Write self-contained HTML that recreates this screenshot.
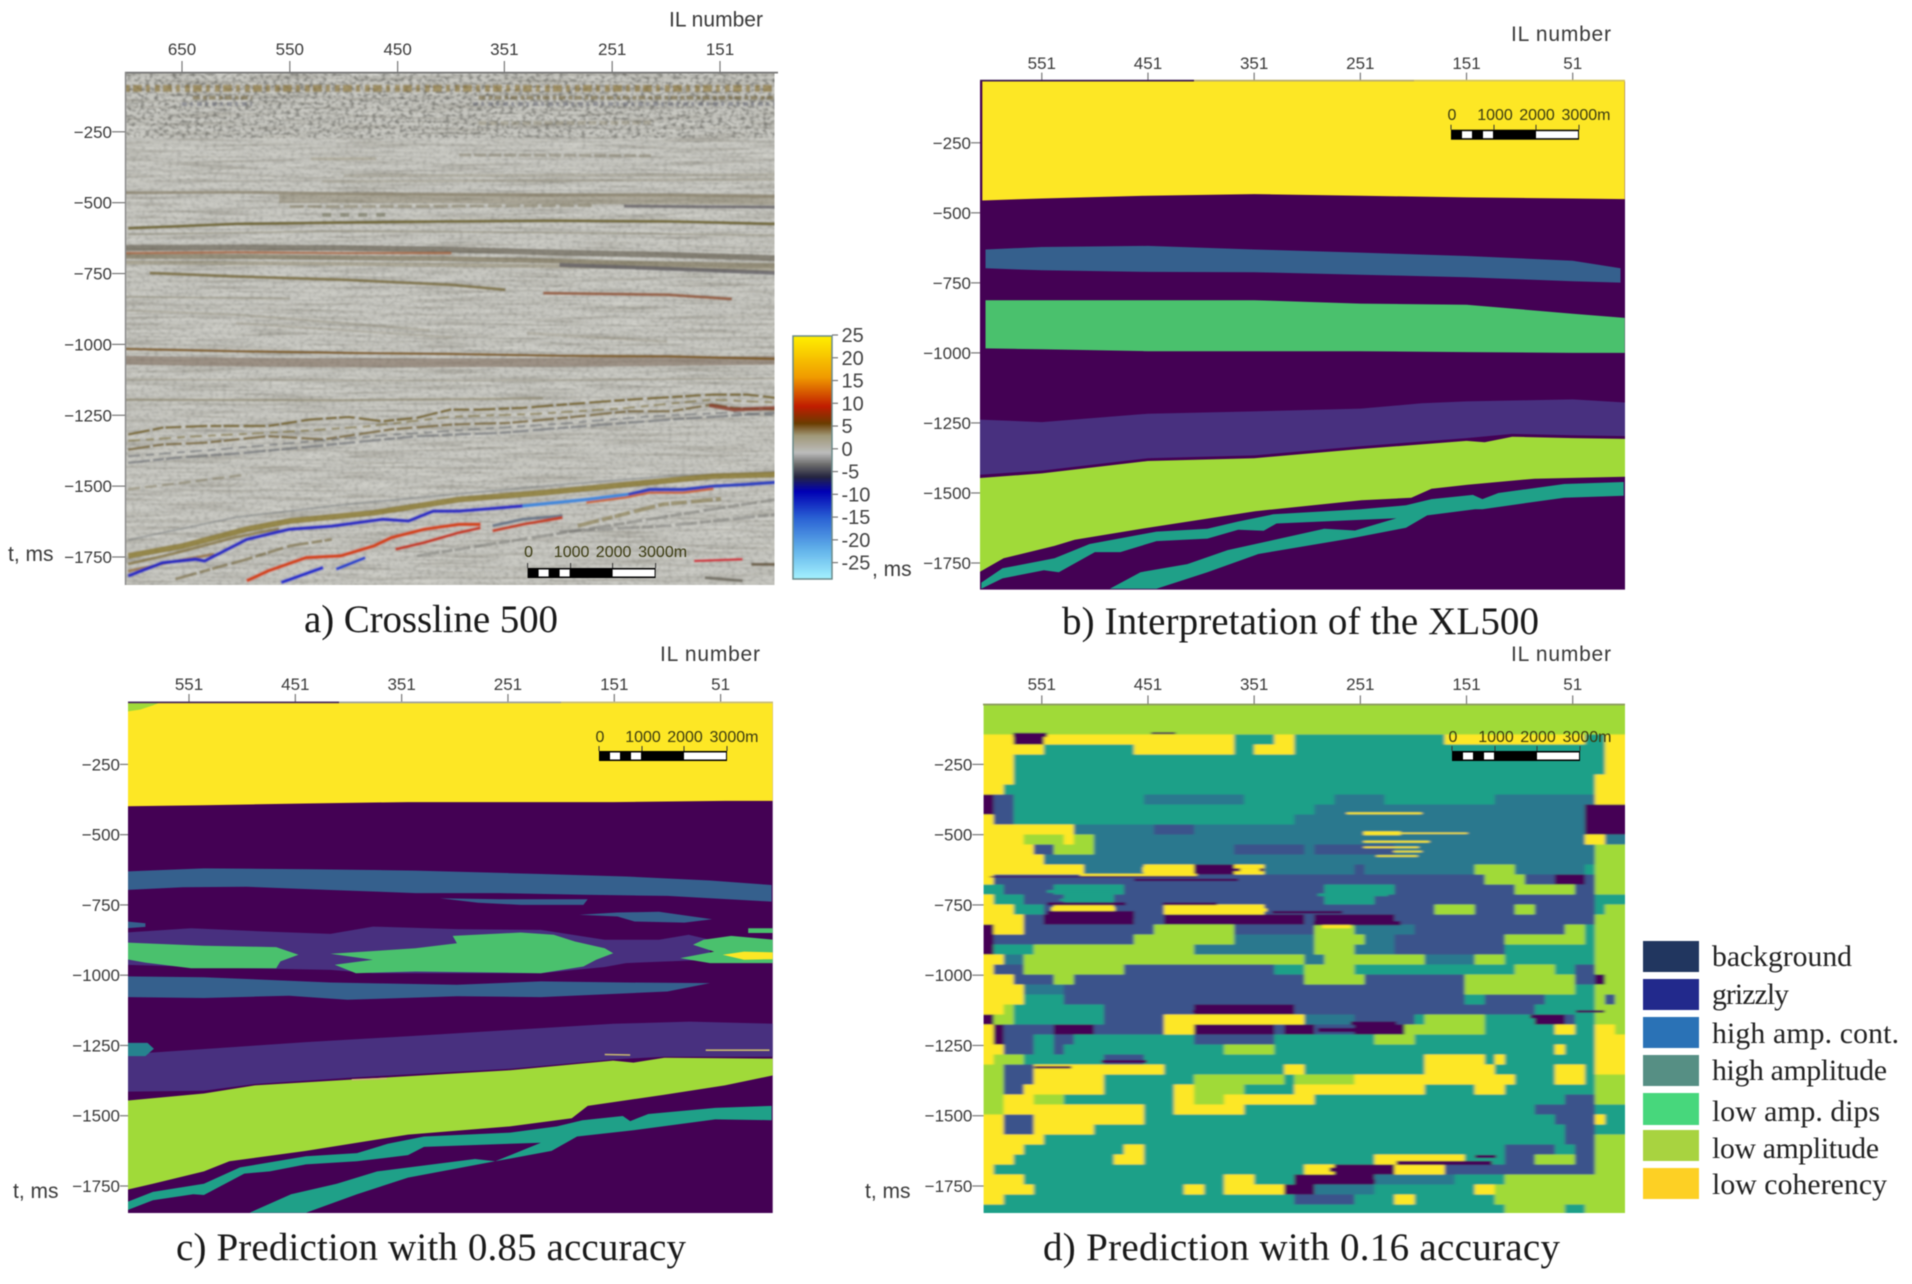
<!DOCTYPE html>
<html lang="en">
<head>
<meta charset="utf-8">
<title>Seismic facies prediction panels</title>
<style>
html,body{margin:0;padding:0;background:#fff;width:1912px;height:1284px;overflow:hidden}
svg{display:block;filter:blur(.45px)}
.tick{font-family:"Liberation Sans",sans-serif;font-size:17px;fill:#3a3a3a}
.axis-title{font-family:"Liberation Sans",sans-serif;font-size:21px;fill:#3a3a3a}
.scale{font-family:"Liberation Sans",sans-serif;font-size:16px;fill:#3a3a10}
.cb{font-family:"Liberation Sans",sans-serif;font-size:20px;fill:#444}
.caption{font-family:"Liberation Serif",serif;font-size:39px;fill:#1a1a1a}
.legend-text{font-family:"Liberation Serif",serif;font-size:29.7px;fill:#222}
</style>
</head>
<body>
<svg id="chart" xmlns="http://www.w3.org/2000/svg" width="1912" height="1284" viewBox="0 0 1912 1284">
<defs>
<filter id="streakNoise" x="0" y="0" width="100%" height="100%" color-interpolation-filters="sRGB">
<feTurbulence type="fractalNoise" baseFrequency="0.012 0.3" numOctaves="3" seed="7"/>
<feColorMatrix type="matrix" values="0 0 0 0 .36  0 0 0 0 .34  0 0 0 0 .28  2.6 0 0 0 -1.15"/>
</filter>
<filter id="speckNoise" x="0" y="0" width="100%" height="100%" color-interpolation-filters="sRGB">
<feTurbulence type="fractalNoise" baseFrequency="0.22 0.34" numOctaves="2" seed="3"/>
<feColorMatrix type="matrix" values="0 0 0 0 .3  0 0 0 0 .3  0 0 0 0 .28  2.4 0 0 0 -1.05"/>
</filter>
<filter id="lightNoise" x="0" y="0" width="100%" height="100%" color-interpolation-filters="sRGB">
<feTurbulence type="fractalNoise" baseFrequency="0.02 0.42" numOctaves="2" seed="19"/>
<feColorMatrix type="matrix" values="0 0 0 0 .95  0 0 0 0 .95  0 0 0 0 .92  2.4 0 0 0 -1.1"/>
</filter>
<filter id="softA" x="-2%" y="-2%" width="104%" height="104%"><feGaussianBlur stdDeviation="0.9 0.7"/></filter>
<filter id="softD" x="-2%" y="-2%" width="104%" height="104%"><feGaussianBlur stdDeviation="1.5 0.5"/></filter>
<linearGradient id="cbGradient" x1="0" y1="0" x2="0" y2="1">
<stop offset="0" stop-color="#fff000"/>
<stop offset=".17" stop-color="#f09a00"/>
<stop offset=".29" stop-color="#c01c00"/>
<stop offset=".36" stop-color="#6a3c00"/>
<stop offset=".41" stop-color="#a09878"/>
<stop offset=".48" stop-color="#bcbcbc"/>
<stop offset=".53" stop-color="#6a6a6a"/>
<stop offset=".58" stop-color="#252540"/>
<stop offset=".64" stop-color="#0000b4"/>
<stop offset=".75" stop-color="#2a62d4"/>
<stop offset=".88" stop-color="#62b2ea"/>
<stop offset="1" stop-color="#a4f2ff"/>
</linearGradient>
<clipPath id="clipA"><rect x="126" y="73" width="648.5" height="512"/></clipPath>
<clipPath id="clipB"><rect x="980" y="81" width="645" height="508.6"/></clipPath>
<clipPath id="clipC"><rect x="128" y="702.5" width="644.7" height="510.5"/></clipPath>
<clipPath id="clipD"><rect x="983.6" y="704.5" width="641.4" height="508.5"/></clipPath>
</defs>

<g id="panelA"></g>
<g id="panelB"></g>
<g id="panelC"></g>
<g id="panelD"></g>
<g id="colorbar"></g>

<text class="axis-title" x="669" y="26.5" textLength="94">IL number</text>
<text class="axis-title" x="8" y="561">t, ms</text>
<text class="axis-title" x="1511" y="41" textLength="100">IL number</text>
<text class="axis-title" x="872" y="576">, ms</text>
<text class="axis-title" x="660" y="661" textLength="100">IL number</text>
<text class="axis-title" x="13" y="1198">t, ms</text>
<text class="axis-title" x="1511" y="661" textLength="100">IL number</text>
<text class="axis-title" x="865" y="1198">t, ms</text>

<text class="caption" x="304" y="632" textLength="254">a) Crossline 500</text>
<text class="caption" x="1062" y="634" textLength="477">b) Interpretation of the XL500</text>
<text class="caption" x="176" y="1260" textLength="510">c) Prediction with 0.85 accuracy</text>
<text class="caption" x="1043" y="1260" textLength="517">d) Prediction with 0.16 accuracy</text>

<g>
<g><rect x="1643" y="941" width="56" height="31" fill="#21365f"/><text class="legend-text" x="1712" y="966" textLength="140">background</text></g>
<g><rect x="1643" y="979" width="56" height="31" fill="#22298c"/><text class="legend-text" x="1712" y="1004" textLength="77">grizzly</text></g>
<g><rect x="1643" y="1017" width="56" height="31" fill="#2a72b6"/><text class="legend-text" x="1712" y="1043" textLength="187">high amp. cont.</text></g>
<g><rect x="1643" y="1055" width="56" height="31" fill="#568f84"/><text class="legend-text" x="1712" y="1080" textLength="175">high amplitude</text></g>
<g><rect x="1643" y="1093" width="56" height="32" fill="#47d77c"/><text class="legend-text" x="1712" y="1121" textLength="168">low amp. dips</text></g>
<g><rect x="1643" y="1130" width="56" height="31" fill="#a8d340"/><text class="legend-text" x="1712" y="1158" textLength="167">low amplitude</text></g>
<g><rect x="1643" y="1168" width="56" height="31" fill="#fdd024"/><text class="legend-text" x="1712" y="1194" textLength="175">low coherency</text></g>
</g>
</svg>

<script>
/* ---------- axis tick data ---------- */
const panelAXTicks = [650, 550, 450, 351, 251, 151];
const otherXTicks = [551, 451, 351, 251, 151, 51];
const timeTicks = [250, 500, 750, 1000, 1250, 1500, 1750];
const colorbarTicks = [25, 20, 15, 10, 5, 0, -5, -10, -15, -20, -25];
const scaleLabels = ['0', '1000', '2000', '3000m'];

/* ---------- panel b boundaries: [inline number, time ms] ---------- */
const bYellow = [[607,20],[2,20],[2,451],[51,449],[151,445],[251,439],[351,433],[451,439],[551,449],[607,456]];
const bBlueTop = [[604,631],[551,622],[451,618],[351,631],[251,642],[151,654],[51,671],[6,698]];
const bBlueBottom = [[6,749],[51,744],[151,730],[251,721],[351,712],[451,711],[551,705],[604,698]];
const bGreenTop = [[604,812],[551,812],[451,812],[351,812],[251,824],[151,828],[51,860],[2,875]];
const bGreenBottom = [[2,1000],[51,1000],[151,997],[251,994],[351,994],[451,994],[551,987],[604,984]];
const bGrizzlyTop = [[610,1238],[551,1247],[451,1217],[351,1209],[251,1199],[193,1180],[151,1173],[51,1166],[1,1177]];
const bGrizzlyBottom = [[1,1297],[51,1294],[108,1289],[151,1304],[251,1333],[351,1366],[451,1376],[551,1420],[610,1435]];
const bLightTop = [[610,1447],[551,1430],[451,1386],[351,1376],[251,1343],[151,1314],[134,1319],[108,1299],[51,1304],[1,1307]];
const bLightBottom = [[1,1442],[87,1449],[150,1471],[184,1485],[203,1517],[250,1526],[350,1565],[451,1624],[520,1667],[539,1689],[587,1733],[610,1783]];
const bTeal = [[608,1842],[608,1820],[588,1769],[539,1733],[506,1682],[443,1638],[395,1628],[366,1602],[333,1576],[251,1558],[208,1544],[184,1522],[145,1507],[136,1522],[121,1500],[59,1468],[3,1461],[3,1510],[59,1517],[136,1558],[143,1558],[188,1580],[208,1624],[261,1663],[347,1718],[395,1783],[443,1842],[487,1842],[458,1783],[414,1754],[376,1704],[285,1628],[256,1634],[217,1590],[330,1609],[342,1635],[366,1631],[395,1663],[443,1672],[477,1711],[501,1711],[535,1783],[549,1776],[588,1805]];

/* ---------- panel c boundaries: [inline number, time ms] ---------- */
const cYellow = [[610,20],[0,20],[0,380],[47,380],[152,384],[249,384],[345,384],[441,389],[537,395],[610,399]];
const cSmudge = [[610,25],[575,25],[585,40],[597,55],[610,62]];
const cBlue1Top = [[610,631],[537,620],[438,623],[338,628],[220,640],[140,649],[61,663],[3,679]];
const cBlue1Bottom = [[3,738],[101,718],[180,714],[259,708],[338,708],[418,697],[497,685],[557,687],[610,697]];
const cStreak = [[315,726],[259,730],[176,730],[180,750],[239,750],[279,742]];
const cBlob = [[184,785],[148,777],[109,774],[59,801],[85,813],[132,809],[148,791]];
const cLeftBit = [[610,809],[592,815],[592,828],[610,833]];
const cGrizzly1 = [[610,848],[549,833],[477,845],[418,853],[378,827],[299,836],[220,839],[160,874],[109,874],[81,856],[61,874],[61,945],[140,957],[160,971],[220,993],[378,993],[418,981],[497,975],[610,963]];
const cGreen1 = [[610,884],[537,895],[469,900],[448,927],[465,951],[469,975],[549,975],[592,955],[610,943]];
const cGreen2 = [[410,922],[338,904],[299,886],[303,860],[239,848],[208,856],[188,880],[160,904],[152,922],[168,945],[180,969],[220,993],[338,987],[394,993],[414,963],[378,945],[418,924]];
const cGreen3 = [[67,874],[41,860],[0,874],[0,957],[61,957],[89,939],[57,916],[77,892]];
const cGreen4 = [[25,833],[0,833],[0,850],[25,850]];
const cYellowSpot = [[49,927],[29,916],[0,919],[0,943],[29,945]];
const cBlue2Top = [[610,1004],[537,1007],[418,1026],[299,1034],[220,1022],[140,1026],[61,1028]];
const cBlue2Bottom = [[101,1058],[220,1078],[299,1075],[402,1087],[457,1073],[537,1081],[610,1078]];
const cTealBit = [[610,1241],[590,1241],[584,1262],[592,1288],[610,1288]];
const cGrizzly2Top = [[610,1282],[585,1275],[441,1238],[345,1217],[249,1195],[152,1173],[80,1165],[0,1173]];
const cGrizzly2Bottom = [[0,1290],[104,1290],[152,1300],[249,1333],[393,1363],[489,1387],[537,1411],[610,1414]];
const cLightTop = [[610,1446],[537,1421],[489,1392],[393,1370],[249,1338],[152,1304],[133,1311],[104,1294],[0,1297]];
const cLightBottom = [[0,1355],[47,1392],[104,1425],[176,1465],[191,1509],[249,1538],[345,1567],[441,1625],[513,1662],[537,1698],[585,1742],[610,1764]];
const cTeal = [[610,1837],[610,1808],[585,1771],[537,1742],[503,1684],[441,1644],[393,1633],[364,1600],[330,1574],[249,1560],[205,1538],[181,1516],[143,1501],[136,1519],[119,1494],[56,1472],[3,1465],[3,1516],[56,1513],[133,1552],[186,1574],[210,1625],[263,1662],[345,1720],[393,1779],[441,1845],[494,1845],[455,1779],[412,1742],[374,1698],[282,1654],[263,1662],[220,1596],[330,1611],[345,1640],[393,1662],[441,1673],[475,1698],[499,1706],[537,1782],[547,1779],[585,1801],[610,1837]];
const cTanStreak1 = [[160,1282],[136,1284]];
const cTanStreak2 = [[65,1267],[5,1267]];
const cTanStreak3 = [[398,1372],[365,1367]];

/* ---------- panel d heatmap: each row lists class + end column ---------- */
const dRows = [
"L64","L64","L64",
"Y3 P6 Y25 T29 Y31 T46 Y60 T62 Y64",
"Y6 T15 Y25 T27 Y31 T62 Y64",
"Y3 T62 Y64","Y3 T62 Y64","Y3 T61 Y64","Y2 T61 Y64",
"P1 I3 T16 B26 T35 B40 T51 B61 Y64",
"P1 I3 T33 B60 P64",
"Y1 I3 T31 B60 P64",
"Y9 B17 I21 B60 P64",
"Y4 L8 Y9 L11 B60 Y62 B64",
"Y5 I7 L11 B25 I32 B33 I41 B61 L64",
"Y6 B61 L64",
"Y10 B16 Y21 P25 Y28 B37 I38 B49 L53 B60 T61 L64",
"Y1 I50 L54 I57 P60 I61 L64",
"T2 I7 T14 I34 T41 I53 L59 I61 L64",
"Y1 T4 I8 T13 I34 T39 I61 T64",
"Y3 T6 I7 Y13 I18 Y28 I45 L49 I53 L55 I61 T62 L64",
"Y4 I6 P15 I18 P32 I33 P41 I61 L64",
"P1 Y4 I17 L25 I33 L37 B43 I58 L60 T61 L64",
"P1 I15 L25 B33 L38 B41 I52 L60 T61 L64",
"P1 T5 L21 B33 L37 B41 I52 T61 L64",
"Y2 B4 L32 B34 L44 B49 L52 T61 L64",
"Y1 I4 L14 I29 T32 L37 T53 L57 T59 I61 L64",
"Y3 I7 L9 I32 L38 I48 L59 I61 P62 L64",
"Y4 B8 I48 L59 T61 L64",
"Y4 T8 I48 T50 I56 T61 L62 I63 L64",
"Y2 L3 T12 I21 P31 I55 T61 L64",
"P1 L3 T12 I18 Y32 B37 I43 T44 L50 T55 P58 I59 T61 L64",
"Y1 P2 I7 P11 I18 Y21 P29 I30 P33 I37 P42 L50 T57 Y59 T61 Y63 L64",
"Y1 P2 I5 T7 I9 T21 I29 T39 L43 T61 Y64",
"Y2 I5 T7 I8 T24 L29 T57 Y58 T61 Y64",
"Y1 L4 T12 I16 T44 Y50 T51 Y52 T61 Y64",
"L2 I5 Y18 T30 Y32 T44 Y51 T57 Y60 T61 Y64",
"L2 I5 Y12 T21 L30 T31 L37 Y53 T57 Y60 T61 L64",
"L2 I4 Y12 T19 Y21 L26 T31 Y44 T49 Y52 T61 L64",
"L2 Y5 L8 T19 Y21 L24 Y33 T58 I61 L64",
"L2 Y16 T19 Y26 T55 I61 T64",
"Y2 I5 Y16 T57 I61 Y62 T64",
"Y2 I5 Y11 T58 I61 T64",
"Y6 T58 I61 L64",
"Y4 T14 Y16 T52 I57 T59 I61 L64",
"Y3 T13 Y16 T39 Y48 T52 I55 L59 I61 L64",
"Y1 T32 Y35 P41 Y46 I61 L64",
"Y4 T24 Y27 T31 P39 B47 T52 L64",
"Y5 T20 Y22 T24 Y30 P33 B39 T49 Y51 L64",
"Y2 T31 I37 T41 Y43 T51 L64",
"T52 L58 T60 L64"
];
/* thin panel d streaks, parallel arrays */
const dStreakClass = "YYYYYYYYPYYPPTTTPPYYPPPPPYPPPPPPPPPPPPPP";
const dStreakMs = [424,495,495,525,545,560,576,625,625,625,643,661,650,702,714,732,746,746,765,768,776,785,801,797,815,827,145,139,1129,1183,1195,1171,1147,1129,1307,1328,1668,1645,1692,1734,222,222];
const dStreakFrom = [264,248,213,248,248,220,236,456,405,364,515,464,600,546,291,534,546,437,542,421,334,546,546,433,295,287,578,448,409,539,291,260,91,48,495,558,217,143,280,311,546,546];
const dStreakTo = [193,213,150,186,196,193,197,409,342,346,405,366,405,480,225,486,472,386,482,339,268,464,476,307,213,260,546,425,319,503,213,217,60,21,452,523,127,123,225,237,314,314];
const dStreakHeight = [7,14,5,7,6,6,6,20,10,12,8,8,4,10,10,8,10,9,15,12,9,26,18,14,14,12,14,6,8,12,14,12,12,8,9,8,14,10,14,14,0,0];

/* ---------- panel a horizons: [inline number, time ms] ---------- */
const hzTop1 = [[703,97],[99,97]];
const hzTop2a = [[640,130],[585,130]];
const hzTop2b = [[375,130],[99,130]];
const hzTop3a = [[650,152],[585,152]];
const hzTop3b = [[380,152],[99,152]];
const hzFaint220 = [[375,220],[215,218]];
const hzFaint332 = [[393,332],[215,334]];
const hzFaint345 = [[530,345],[470,345]];
const hzFaint405 = [[500,405],[99,402]];
const hzFaint425 = [[520,425],[99,418]];
const hzBand470 = [[703,465],[600,463],[500,468],[400,470],[300,472],[200,472],[99,476]];
const hzBand485 = [[560,486],[500,486],[400,486],[300,490],[200,490],[99,492]];
const hzRight514 = [[240,512],[170,514],[99,516]];
const hzLeft514 = [[550,514],[400,512],[270,510]];
const hzBlobs543 = [[520,543],[455,543]];
const hzStrong570 = [[700,590],[600,575],[500,570],[400,566],[300,564],[200,566],[99,575]];
const hzFaint607 = [[700,612],[500,600],[300,606],[99,615]];
const hzDark660 = [[703,660],[600,658],[500,660],[400,666],[300,676],[200,684],[99,696]];
const hzOrange678 = [[703,678],[600,675],[500,678],[400,678]];
const hzDark692 = [[703,690],[600,690],[500,694],[400,698],[300,706],[200,716],[99,722]];
const hzTan711 = [[703,711],[500,716],[300,724],[99,737]];
const hzDark735 = [[300,720],[200,733],[99,748]];
const hzBrown760 = [[680,748],[600,760],[500,772],[400,790],[350,807]];
const hzRed825 = [[315,819],[200,825],[140,840]];
const hzFaint830 = [[703,832],[550,838]];
const hzFaint880 = [[703,880],[600,895],[500,925],[420,950]];
const hzFaint930 = [[600,925],[480,955],[400,975]];
const hzFaint990 = [[330,960],[200,990]];
const hzFlat1030 = [[703,1016],[600,1024],[500,1030],[400,1034],[300,1040],[200,1042],[99,1051]];
const hzWide1062 = [[703,1056],[600,1062],[500,1065],[400,1065],[300,1063],[200,1060],[99,1056]];
const hzFaint1124 = [[703,1124],[400,1128],[99,1120]];
const hzFaint1195 = [[703,1195],[500,1197],[315,1190]];
const hzWavy1 = [[700,1318],[668,1294],[629,1288],[570,1288],[531,1265],[495,1256],[464,1271],[432,1259],[401,1230],[374,1230],[334,1224],[295,1212],[236,1195],[158,1177],[126,1177],[98,1189]];
const hzWavy2 = [[700,1371],[668,1353],[629,1347],[570,1324],[519,1335],[456,1300],[401,1283],[346,1277],[295,1259],[236,1236],[197,1236],[158,1212],[138,1224],[98,1230]];
const hzWavy3 = [[700,1418],[656,1400],[590,1382],[511,1353],[432,1324],[354,1312],[275,1288],[197,1265],[98,1241]];
const hzWavy4 = [[700,1340],[640,1325],[560,1310],[480,1290],[400,1255],[320,1245],[240,1225],[160,1195],[98,1205]];
const hzWavy5 = [[700,1395],[620,1372],[540,1345],[460,1320],[380,1300],[300,1280],[220,1255],[140,1240],[98,1250]];
const hzRedCluster = [[161,1215],[138,1230],[98,1224]];
const hzLowLeft = [[700,1511],[649,1488],[590,1459]];
const hzGrayAbove = [[700,1690],[600,1610],[500,1565],[400,1530],[300,1495],[200,1465],[99,1450]];
const hzBrownThick = [[700,1746],[649,1711],[590,1652],[550,1623],[472,1594],[393,1547],[315,1523],[236,1494],[157,1465],[98,1459]];
const hzBlueMain = [[700,1817],[668,1770],[637,1758],[629,1764],[590,1688],[550,1652],[511,1641],[464,1617],[440,1623],[417,1588],[393,1588],[334,1570]];
const hzBlueLight = [[334,1570],[275,1547],[236,1529]];
const hzBlueEnd = [[236,1529],[216,1512],[185,1512],[157,1500],[126,1494],[98,1486]];
const hzRed1 = [[590,1834],[570,1799],[535,1752],[503,1746],[472,1711],[456,1682],[425,1652],[393,1635],[373,1635]];
const hzBlueLow1 = [[558,1840],[519,1787]];
const hzBlueLow2 = [[507,1793],[480,1752]];
const hzRed3 = [[452,1723],[425,1699],[393,1664],[373,1647]];
const hzRed4 = [[362,1658],[334,1635],[297,1611]];
const hzGray4 = [[362,1640],[334,1617],[297,1605]];
const hzOrangeUnder = [[275,1558],[240,1541],[216,1523],[185,1523],[157,1509]];
const hzRedBottom = [[175,1764],[130,1758]];
const hzDarkBottom = [[122,1776],[98,1776]];
const hzBottomRight = [[165,1823],[130,1834]];
const hzTanLeft = [[700,1775],[660,1740],[600,1680],[560,1650]];
const hzBrownBelow = [[656,1828],[629,1799],[590,1758],[550,1711],[511,1688]];
const hzGrayLow = [[432,1746],[354,1699],[275,1652],[197,1605],[99,1547]];
const hzBrownRight = [[283,1640],[204,1564],[150,1545]];
const hzLeftBottom = [[700,1800],[650,1760],[620,1740]];
const hzLowRight = [[300,1660],[200,1640],[99,1600]];

/* ---------- scales ---------- */
function linear(d0, d1, r0, r1) {
  return function (v) { return r0 + (v - d0) * (r1 - r0) / (d1 - d0); };
}
const axA = { x: linear(650, 151, 182, 720), y: linear(250, 1750, 131.8, 557) };
const axB = { x: linear(551, 51, 1041.8, 1572.7), y: linear(250, 1750, 142.8, 563) };
const axC = { x: linear(551, 51, 189, 720.6), y: linear(250, 1750, 764.4, 1186) };
const axD = { x: linear(551, 51, 1041.8, 1572.7), y: linear(250, 1750, 764.4, 1186) };

const NS = 'http://www.w3.org/2000/svg';
function mk(tag, parent, name) {
  const el = document.createElementNS(NS, tag);
  
  
  parent.appendChild(el);
  return el;
}
function set(el, props) { for (const k in props) el.setAttribute(k, props[k]); return el; }

function polygon(g, ax, pts, fill, name) {
  const el = mk('polygon', g, name);
  set(el, { points: pts.map(function (p) { return ax.x(p[0]).toFixed(1) + ',' + ax.y(p[1]).toFixed(1); }).join(' '), fill: fill });
}
function band(top, bottom) { return top.concat(bottom); }
function line(g, ax, pts, color, width, opacity, name, dash) {
  const el = mk('polyline', g, name);
  set(el, { points: pts.map(function (p) { return ax.x(p[0]).toFixed(1) + ',' + ax.y(p[1]).toFixed(1); }).join(' '), fill: 'none', stroke: color, 'stroke-width': width, 'stroke-opacity': opacity, 'stroke-linejoin': 'round' });
  if (dash) el.setAttribute('stroke-dasharray', dash);
}

function axes(g, ax, xTicks, o) {
  xTicks.forEach(function (t) {
    const x = ax.x(t);
    const tk = mk('line', g, 'x-tick-' + t);
    set(tk, { x1: x, x2: x, y1: o.tickTop, y2: o.top, stroke: '#777', 'stroke-width': 1.2 });
    const lb = mk('text', g, 'x-tick-label-' + t);
    set(lb, { class: 'tick', x: x, y: o.labelY, 'text-anchor': 'middle' });
    lb.textContent = String(t);
  });
  timeTicks.forEach(function (t) {
    const y = ax.y(t);
    const tk = mk('line', g, 'y-tick-' + t);
    set(tk, { x1: o.tickLeft, x2: o.left, y1: y, y2: y, stroke: '#777', 'stroke-width': 1.2 });
    const lb = mk('text', g, 'y-tick-label-' + t);
    set(lb, { class: 'tick', x: o.tickLeft, y: y + 6, 'text-anchor': 'end' });
    lb.textContent = '\u2212' + t;
  });
  o.topSegments.forEach(function (s, i) {
    const l = mk('line', g, 'top-axis-segment-' + i);
    set(l, { x1: s[0], x2: s[1], y1: o.top, y2: o.top, stroke: s[2], 'stroke-width': 1.8 });
  });
}

function scaleBar(g, x0, y0, labelY) {
  const s = mk('g', g, 'scale-bar');
  const black = mk('rect', s, 'scale-bar-black');
  set(black, { x: x0, y: y0, width: 128, height: 10, fill: '#000' });
  [[11, 10], [32, 10], [85, 42]].forEach(function (b, i) {
    const r = mk('rect', s, 'scale-bar-white-' + i);
    set(r, { x: x0 + b[0], y: y0 + 1.5, width: b[1], height: 7, fill: '#fff' });
  });
  [0, 43, 85, 128].forEach(function (dx, i) {
    const t = mk('line', s, 'scale-bar-tick-' + i);
    set(t, { x1: x0 + dx, x2: x0 + dx, y1: y0 - 5, y2: y0, stroke: '#333', 'stroke-width': 1 });
  });
  [1, 44, 86, 135].forEach(function (dx, i) {
    const t = mk('text', s, 'scale-bar-label-' + i);
    set(t, { class: 'scale', x: x0 + dx, y: labelY, 'text-anchor': 'middle' });
    t.textContent = scaleLabels[i];
  });
}

const VIRIDIS = { yellow: '#fde725', purple: '#440154', blue: '#35608d', grizzly: '#48307f', green: '#4ac16d', light: '#a0da39', teal: '#1fa088' };

/* ---------- panel A ---------- */
(function () {
  const root = document.getElementById('panelA');
  const clip = mk('g', root, 'seismic-section');
  clip.setAttribute('clip-path', 'url(#clipA)');
  const g = mk('g', clip, 'seismic-image');
  g.setAttribute('filter', 'url(#softA)');
  const base = mk('rect', g, 'seismic-background');
  set(base, { x: 120, y: 68, width: 660, height: 522, fill: '#c6c6c0' });
  const n1 = mk('rect', g, 'seismic-streak-texture');
  set(n1, { x: 120, y: 68, width: 660, height: 522, filter: 'url(#streakNoise)', opacity: .3 });
  const n2 = mk('rect', g, 'seismic-light-texture');
  set(n2, { x: 120, y: 68, width: 660, height: 522, filter: 'url(#lightNoise)', opacity: .3 });
  const n3 = mk('rect', g, 'seismic-speckle-texture');
  set(n3, { x: 120, y: 68, width: 660, height: 522, filter: 'url(#speckNoise)', opacity: .22 });
  const n4 = mk('rect', g, 'seismic-top-speckle');
  set(n4, { x: 120, y: 68, width: 660, height: 70, filter: 'url(#speckNoise)', opacity: .55 });
  const a = axA;
  const broken = '22 3 11 2 16 4';
  line(g, a, hzTop1, '#8a7230', 7, .6, 'horizon-top-1', '5 3 9 4 4 5');
  line(g, a, hzTop2a, '#6e5c30', 4, .55, 'horizon-top-2a', '7 3 4 2');
  line(g, a, hzTop2b, '#6e5c30', 4, .55, 'horizon-top-2b', '7 3 4 2');
  line(g, a, hzTop3a, '#5d6070', 4, .5, 'horizon-top-3a', '5 3 3 4');
  line(g, a, hzTop3b, '#5d6070', 4, .5, 'horizon-top-3b', '5 3 3 4');
  line(g, a, hzFaint220, '#8c8468', 4, .35, 'horizon-220', '8 3');
  line(g, a, hzFaint332, '#7c7660', 3, .45, 'horizon-332', '12 3');
  line(g, a, hzFaint345, '#8c8468', 3, .35, 'horizon-345');
  line(g, a, hzFaint405, '#8a8470', 3, .35, 'horizon-405');
  line(g, a, hzFaint425, '#8a8470', 3, .35, 'horizon-425');
  line(g, a, hzBand470, '#7c7258', 3, .6, 'horizon-470');
  line(g, a, hzBand485, '#80765a', 9, .4, 'horizon-485');
  line(g, a, hzRight514, '#4e4a52', 3, .65, 'horizon-514-right');
  line(g, a, hzLeft514, '#80785c', 3, .5, 'horizon-514-left', '14 4');
  line(g, a, hzBlobs543, '#6a6a50', 4, .55, 'horizon-543', '9 9');
  line(g, a, hzStrong570, '#62561c', 3, .8, 'horizon-570');
  line(g, a, hzFaint607, '#8a8470', 2, .45, 'horizon-607');
  line(g, a, hzDark660, '#5e5648', 6, .6, 'horizon-660');
  line(g, a, hzOrange678, '#a4562a', 2.5, .7, 'horizon-678');
  line(g, a, hzDark692, '#6e6244', 5, .55, 'horizon-692');
  line(g, a, hzTan711, '#807656', 4, .4, 'horizon-711');
  line(g, a, hzDark735, '#55525a', 4, .7, 'horizon-735');
  line(g, a, hzBrown760, '#6a5a24', 3, .7, 'horizon-760');
  line(g, a, hzRed825, '#8a4422', 3, .75, 'horizon-825');
  line(g, a, hzFaint830, '#8a8470', 2, .45, 'horizon-830');
  line(g, a, hzFaint880, '#8a8470', 2.5, .35, 'horizon-880');
  line(g, a, hzFaint930, '#8a8470', 2.5, .3, 'horizon-930');
  line(g, a, hzFaint990, '#8a8470', 3, .3, 'horizon-990');
  line(g, a, hzWide1062, '#7a6656', 9, .55, 'horizon-1062');
  line(g, a, hzFlat1030, '#7a5518', 2.5, .9, 'horizon-1030');
  line(g, a, hzFaint1124, '#8a8470', 2, .35, 'horizon-1124');
  line(g, a, hzFaint1195, '#7e7658', 2.5, .5, 'horizon-1195');
  line(g, a, hzWavy1, '#6e5c1c', 2.5, .85, 'horizon-wavy-1', broken);
  line(g, a, hzWavy4, '#7a6a30', 2, .6, 'horizon-wavy-4', '12 6 8 5');
  line(g, a, hzWavy2, '#6a5420', 2.5, .7, 'horizon-wavy-2', broken);
  line(g, a, hzWavy5, '#60646a', 2, .55, 'horizon-wavy-5', '12 6 8 5');
  line(g, a, hzWavy3, '#62666c', 2.5, .6, 'horizon-wavy-3', broken);
  line(g, a, hzRedCluster, '#8a3a26', 4, .8, 'horizon-red-cluster');
  line(g, a, hzLowLeft, '#7e7658', 2.5, .5, 'horizon-low-left', '12 5');
  line(g, a, hzGrayAbove, '#74787a', 2, .45, 'horizon-gray-above');
  line(g, a, hzBrownThick, '#84701e', 6, .72, 'horizon-brown-thick');
  line(g, a, hzTanLeft, '#7a6628', 3, .65, 'horizon-tan-left');
  line(g, a, hzLeftBottom, '#8a5a20', 3, .65, 'horizon-left-bottom');
  line(g, a, hzBrownBelow, '#6a5a28', 3, .55, 'horizon-brown-below', broken);
  line(g, a, hzGrayLow, '#6a6a66', 3, .45, 'horizon-gray-low', broken);
  line(g, a, hzLowRight, '#6a6a66', 3, .4, 'horizon-low-right', broken);
  line(g, a, hzBrownRight, '#7a6a30', 4, .5, 'horizon-brown-right', broken);
  line(g, a, hzBlueMain, '#2222c4', 3.5, .95, 'horizon-blue-main');
  line(g, a, hzBlueLight, '#3a86dc', 3.5, .95, 'horizon-blue-light');
  line(g, a, hzBlueEnd, '#2438c0', 3.5, .95, 'horizon-blue-end');
  line(g, a, hzOrangeUnder, '#cc5a22', 2.5, .85, 'horizon-orange-under');
  line(g, a, hzRed1, '#d43c10', 3.5, .95, 'horizon-red-1');
  line(g, a, hzBlueLow1, '#1a22cc', 3.5, .95, 'horizon-blue-low-1');
  line(g, a, hzBlueLow2, '#1a38cc', 3, .95, 'horizon-blue-low-2');
  line(g, a, hzRed3, '#c43018', 3, .95, 'horizon-red-3');
  line(g, a, hzGray4, '#50607a', 3, .75, 'horizon-gray-4');
  line(g, a, hzRed4, '#c43818', 3, .95, 'horizon-red-4');
  line(g, a, hzRedBottom, '#d0202e', 2.5, .95, 'horizon-red-bottom');
  line(g, a, hzDarkBottom, '#5a4a30', 3, .8, 'horizon-dark-bottom');
  line(g, a, hzBottomRight, '#5a5548', 3, .7, 'horizon-bottom-right');
  axes(root, a, panelAXTicks, { top: 72.6, tickTop: 61, labelY: 55, left: 126, tickLeft: 112, topSegments: [[125, 778, '#777']] });
  const lft = mk('line', root, 'panel-a-left-axis');
  set(lft, { x1: 125.5, x2: 125.5, y1: 72, y2: 585, stroke: '#888', 'stroke-width': 1.4 });
  scaleBar(root, 527.6, 568, 557);
})();

/* ---------- panel B ---------- */
(function () {
  const root = document.getElementById('panelB');
  const g = mk('g', root, 'interpretation-map');
  g.setAttribute('clip-path', 'url(#clipB)');
  const base = mk('rect', g, 'background-class');
  set(base, { x: 980, y: 81, width: 645, height: 509, fill: VIRIDIS.purple });
  const a = axB;
  polygon(g, a, bYellow, VIRIDIS.yellow, 'region-yellow');
  polygon(g, a, band(bBlueTop, bBlueBottom), VIRIDIS.blue, 'region-high-amp');
  polygon(g, a, band(bGreenTop, bGreenBottom), VIRIDIS.green, 'region-low-amp-dips');
  polygon(g, a, band(bGrizzlyTop, bGrizzlyBottom), VIRIDIS.grizzly, 'region-grizzly');
  polygon(g, a, band(bLightTop, bLightBottom), VIRIDIS.light, 'region-low-amplitude');
  polygon(g, a, bTeal, VIRIDIS.teal, 'region-high-amplitude');
  axes(root, a, otherXTicks, { top: 80.6, tickTop: 72.6, labelY: 69, left: 980, tickLeft: 971, topSegments: [[980, 1194, '#3d1a50'], [1194, 1414, '#b9ab6c'], [1414, 1625, '#d6c55a']] });
  scaleBar(root, 1451, 129.7, 120);
})();

/* ---------- panel C ---------- */
(function () {
  const root = document.getElementById('panelC');
  const g = mk('g', root, 'prediction-map-085');
  g.setAttribute('clip-path', 'url(#clipC)');
  const base = mk('rect', g, 'background-class');
  set(base, { x: 128, y: 702, width: 645, height: 511, fill: VIRIDIS.purple });
  const a = axC;
  polygon(g, a, cYellow, VIRIDIS.yellow, 'region-yellow');
  polygon(g, a, cSmudge, VIRIDIS.light, 'region-top-smudge');
  polygon(g, a, band(cBlue1Top, cBlue1Bottom), VIRIDIS.blue, 'region-high-amp-upper');
  polygon(g, a, cStreak, VIRIDIS.blue, 'region-high-amp-streak');
  polygon(g, a, cBlob, VIRIDIS.blue, 'region-high-amp-blob');
  polygon(g, a, cLeftBit, VIRIDIS.blue, 'region-high-amp-left');
  polygon(g, a, cGrizzly1, VIRIDIS.grizzly, 'region-grizzly-mid');
  polygon(g, a, cGreen1, VIRIDIS.green, 'region-dips-left');
  polygon(g, a, cGreen2, VIRIDIS.green, 'region-dips-center');
  polygon(g, a, cGreen3, VIRIDIS.green, 'region-dips-right');
  polygon(g, a, cGreen4, VIRIDIS.green, 'region-dips-top-right');
  polygon(g, a, cYellowSpot, VIRIDIS.yellow, 'region-yellow-spot');
  polygon(g, a, band(cBlue2Top, cBlue2Bottom), VIRIDIS.blue, 'region-high-amp-lower');
  polygon(g, a, band(cGrizzly2Top, cGrizzly2Bottom), VIRIDIS.grizzly, 'region-grizzly-lower');
  polygon(g, a, cTealBit, '#26828e', 'region-teal-left');
  polygon(g, a, band(cLightTop, cLightBottom), VIRIDIS.light, 'region-low-amplitude');
  polygon(g, a, cTeal, VIRIDIS.teal, 'region-high-amplitude');
  line(g, a, cTanStreak1, '#c8b870', 1.6, 1, 'tan-streak-1');
  line(g, a, cTanStreak2, '#c8b870', 1.6, 1, 'tan-streak-2');
  line(g, a, cTanStreak3, '#c8b870', 1.6, 1, 'tan-streak-3');
  axes(root, a, otherXTicks, { top: 702.4, tickTop: 694, labelY: 690, left: 128, tickLeft: 120, topSegments: [[128, 339, '#4a2c60'], [339, 561, '#a0a0a0'], [561, 773, '#c8bc80']] });
  scaleBar(root, 599, 751, 742);
})();

/* ---------- panel D ---------- */
(function () {
  const root = document.getElementById('panelD');
  const clip = mk('g', root, 'prediction-map-016');
  clip.setAttribute('clip-path', 'url(#clipD)');
  const g = mk('g', clip, 'heatmap-cells');
  g.setAttribute('filter', 'url(#softD)');
  const classColor = { Y: '#fde725', L: '#a0da39', T: '#1fa088', B: '#2a788e', I: '#3b528b', P: '#440154' };
  const a = axD;
  const left = 983.6, top = 704.5, cellW = 641.4 / 64, cellH = 10;
  dRows.forEach(function (row, r) {
    let start = 0;
    row.split(' ').forEach(function (run) {
      const cls = run[0];
      const end = parseInt(run.slice(1), 10);
      const pad = start === 0 ? 6 : 0;
      const padEnd = end === 64 ? 6 : 0;
      const c = mk('rect', g, 'heatmap-run');
      set(c, { x: left + start * cellW - pad, y: top + r * cellH, width: (end - start) * cellW + .4 + pad + padEnd, height: cellH + .4, fill: classColor[cls] });
      start = end;
    });
  });
  dStreakMs.forEach(function (ms, i) {
    if (!dStreakHeight[i]) return;
    const x0 = a.x(dStreakFrom[i]);
    const x1 = a.x(dStreakTo[i]);
    const s = mk('rect', g, 'heatmap-streak');
    set(s, { x: x0, y: a.y(ms - dStreakHeight[i] / 2), width: x1 - x0, height: Math.max(1, a.y(ms + dStreakHeight[i] / 2) - a.y(ms - dStreakHeight[i] / 2)), fill: classColor[dStreakClass[i]] });
  });
  axes(root, a, otherXTicks, { top: 704.5, tickTop: 695.4, labelY: 690, left: 983.6, tickLeft: 972.4, topSegments: [[983, 1625, '#8a9a5a']] });
  scaleBar(root, 1452, 751, 742);
})();

/* ---------- colorbar ---------- */
(function () {
  const root = document.getElementById('colorbar');
  const cy = linear(25, -25, 335, 562.6);
  const bar = mk('rect', root, 'colorbar-gradient');
  set(bar, { x: 793, y: 336, width: 39, height: 243, fill: 'url(#cbGradient)', stroke: '#6a8a8a', 'stroke-width': 1.5 });
  colorbarTicks.forEach(function (v) {
    const t = mk('line', root, 'colorbar-tick-' + v);
    set(t, { x1: 832, x2: 838, y1: cy(v), y2: cy(v), stroke: '#777', 'stroke-width': 1.2 });
    const l = mk('text', root, 'colorbar-label-' + v);
    set(l, { class: 'cb', x: 841.5, y: cy(v) + 7 });
    l.textContent = String(v);
  });
})();
</script>
</body>
</html>
